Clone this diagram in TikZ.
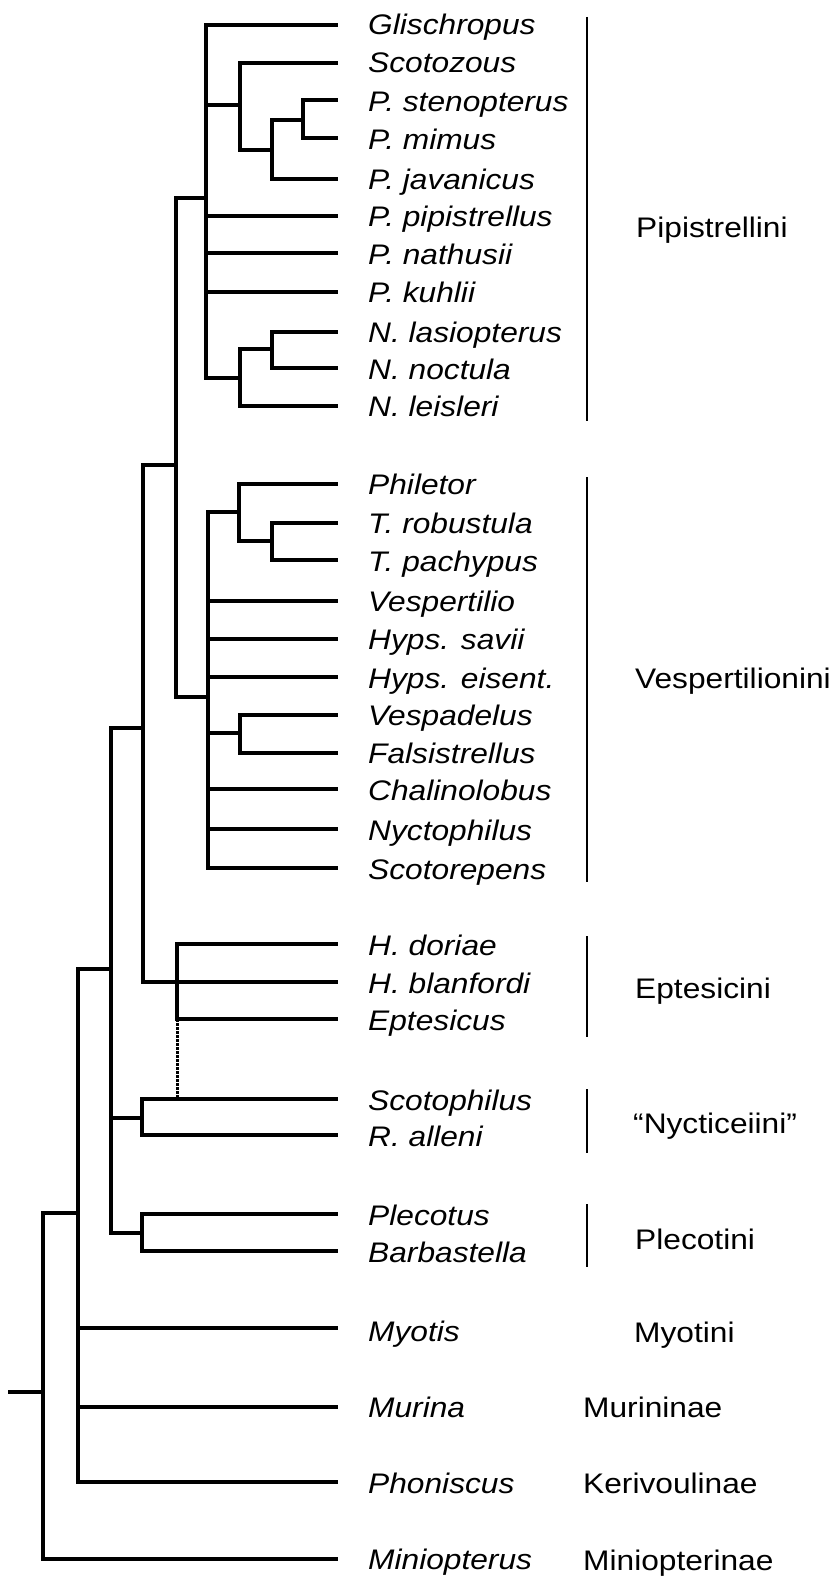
\documentclass[tikz,border=0pt]{standalone}
\usepackage{fontspec}
\setmainfont{Liberation Sans}[FakeStretch=1.12]
\begin{document}
\begin{tikzpicture}[x=1pt,y=-1pt,
  br/.style={line width=3.3pt,line cap=rect},
  bar/.style={line width=2.8pt},
  dotbr/.style={line width=3pt,dash pattern=on 2.5pt off 1.5pt},
  leaf/.style={anchor=base west,inner sep=0pt,font=\fontsize{28.3}{34}\selectfont\itshape},
  grp/.style={anchor=base west,inner sep=0pt,font=\fontsize{28.3}{34}\selectfont}]
\useasboundingbox (0,0) rectangle (838,1579);

% leaf tips
\foreach \n/\y in {1/25,2/63,3/100,4/138,5/179,6/216,7/253,8/292,9/332,10/368,11/406,
  12/484,13/523,14/560,15/601,16/639,17/677,18/715,19/753,20/789,21/829,22/868,
  23/944,24/982,25/1019,26/1099,27/1135,28/1214,29/1251,30/1328,31/1407,32/1482,33/1559}
  {\coordinate (t\n) at (336,\y);}

% internal nodes (x of vertical bar, y of attachment to parent)
\coordinate (sm) at (303,120);
\coordinate (smj) at (272,150);
\coordinate (scot) at (240,105);
\coordinate (noc) at (272,349);
\coordinate (nyc) at (240,378);
\coordinate (pip) at (206,198);
\coordinate (tyl) at (272,541);
\coordinate (phil) at (239,512);
\coordinate (vespa) at (240,733);
\coordinate (vesp) at (208,697);
\coordinate (pv) at (176,465);
\coordinate (ept) at (177,982);
\coordinate (pve) at (143,728);
\coordinate (sco) at (142,1118);
\coordinate (ple) at (142,1233);
\coordinate (vesper) at (111,969);
\coordinate (vm) at (78,1213);
\coordinate (root) at (43,1392);
\coordinate (rootstub) at (10,1392);
\coordinate (eptbot) at (177,1019);
\coordinate (scotop) at (177,1099);

% leaf labels
\node[leaf] (l1) at (368,35) {Glischropus};
\node[leaf] (l2) at (368,73) {Scotozous};
\node[leaf] (l3) at (368,111) {P. stenopterus};
\node[leaf] (l4) at (368,149) {P. mimus};
\node[leaf] (l5) at (368,189) {P. javanicus};
\node[leaf] (l6) at (368,226) {P. pipistrellus};
\node[leaf] (l7) at (368,264) {P. nathusii};
\node[leaf] (l8) at (368,302) {P. kuhlii};
\node[leaf] (l9) at (368,342) {N. lasiopterus};
\node[leaf] (l10) at (368,379) {N. noctula};
\node[leaf] (l11) at (368,416) {N. leisleri};
\node[leaf] (l12) at (368,494) {Philetor};
\node[leaf] (l13) at (368,533) {T. robustula};
\node[leaf] (l14) at (368,571) {T. pachypus};
\node[leaf] (l15) at (368,611) {Vespertilio};
\node[leaf] (l16) at (368,649) {Hyps. savii};
\node[leaf] (l17) at (368,688) {Hyps. eisent.};
\node[leaf] (l18) at (368,725) {Vespadelus};
\node[leaf] (l19) at (368,763) {Falsistrellus};
\node[leaf] (l20) at (368,800) {Chalinolobus};
\node[leaf] (l21) at (368,840) {Nyctophilus};
\node[leaf] (l22) at (368,879) {Scotorepens};
\node[leaf] (l23) at (368,955) {H. doriae};
\node[leaf] (l24) at (368,993) {H. blanfordi};
\node[leaf] (l25) at (368,1030) {Eptesicus};
\node[leaf] (l26) at (368,1110) {Scotophilus};
\node[leaf] (l27) at (368,1146) {R. alleni};
\node[leaf] (l28) at (368,1225) {Plecotus};
\node[leaf] (l29) at (368,1262) {Barbastella};
\node[leaf] (l30) at (368,1341) {Myotis};
\node[leaf] (l31) at (368,1417) {Murina};
\node[leaf] (l32) at (368,1493) {Phoniscus};
\node[leaf] (l33) at (368,1569) {Miniopterus};

% group labels
\node[grp] (g1) at (636,237) {Pipistrellini};
\node[grp] (g2) at (635,688) {Vespertilionini};
\node[grp] (g3) at (635,998) {Eptesicini};
\node[grp] (g4) at (633,1133) {“Nycticeiini”};
\node[grp] (g5) at (635,1249) {Plecotini};
\node[grp] (g6) at (634,1342) {Myotini};
\node[grp] (g7) at (583,1417) {Murininae};
\node[grp] (g8) at (583,1493) {Kerivoulinae};
\node[grp] (g9) at (583,1570) {Miniopterinae};

% group bars
\coordinate (b1a) at (587,17);  \coordinate (b1b) at (587,421);
\coordinate (b2a) at (587,477); \coordinate (b2b) at (587,882);
\coordinate (b3a) at (587,936); \coordinate (b3b) at (587,1037);
\coordinate (b4a) at (587,1089); \coordinate (b4b) at (587,1153);
\coordinate (b5a) at (587,1204); \coordinate (b5b) at (587,1267);
\draw[bar] (b1a) -- (b1b);
\draw[bar] (b2a) -- (b2b);
\draw[bar] (b3a) -- (b3b);
\draw[bar] (b4a) -- (b4b);
\draw[bar] (b5a) -- (b5b);

% tree
\draw[br] (sm) |- (t3);
\draw[br] (sm) |- (t4);
\draw[br] (smj) |- (sm);
\draw[br] (smj) |- (t5);
\draw[br] (scot) |- (t2);
\draw[br] (scot) |- (smj);
\draw[br] (noc) |- (t9);
\draw[br] (noc) |- (t10);
\draw[br] (nyc) |- (noc);
\draw[br] (nyc) |- (t11);
\draw[br] (pip) |- (t1);
\draw[br] (pip) |- (scot);
\draw[br] (pip) |- (t6);
\draw[br] (pip) |- (t7);
\draw[br] (pip) |- (t8);
\draw[br] (pip) |- (nyc);
\draw[br] (tyl) |- (t13);
\draw[br] (tyl) |- (t14);
\draw[br] (phil) |- (t12);
\draw[br] (phil) |- (tyl);
\draw[br] (vespa) |- (t18);
\draw[br] (vespa) |- (t19);
\draw[br] (vesp) |- (phil);
\draw[br] (vesp) |- (t15);
\draw[br] (vesp) |- (t16);
\draw[br] (vesp) |- (t17);
\draw[br] (vesp) |- (vespa);
\draw[br] (vesp) |- (t20);
\draw[br] (vesp) |- (t21);
\draw[br] (vesp) |- (t22);
\draw[br] (pv) |- (pip);
\draw[br] (pv) |- (vesp);
\draw[br] (ept) |- (t23);
\draw[br] (ept) |- (t24);
\draw[br] (ept) |- (t25);
\draw[br] (pve) |- (pv);
\draw[br] (pve) |- (ept);
\draw[br] (sco) |- (t26);
\draw[br] (sco) |- (t27);
\draw[br] (ple) |- (t28);
\draw[br] (ple) |- (t29);
\draw[br] (vesper) |- (pve);
\draw[br] (vesper) |- (sco);
\draw[br] (vesper) |- (ple);
\draw[br] (vm) |- (vesper);
\draw[br] (vm) |- (t30);
\draw[br] (vm) |- (t31);
\draw[br] (vm) |- (t32);
\draw[br] (root) |- (vm);
\draw[br] (root) |- (t33);
\draw[br] (rootstub) -- (root);
\draw[dotbr] (eptbot) -- (scotop);
\end{tikzpicture}
\end{document}
